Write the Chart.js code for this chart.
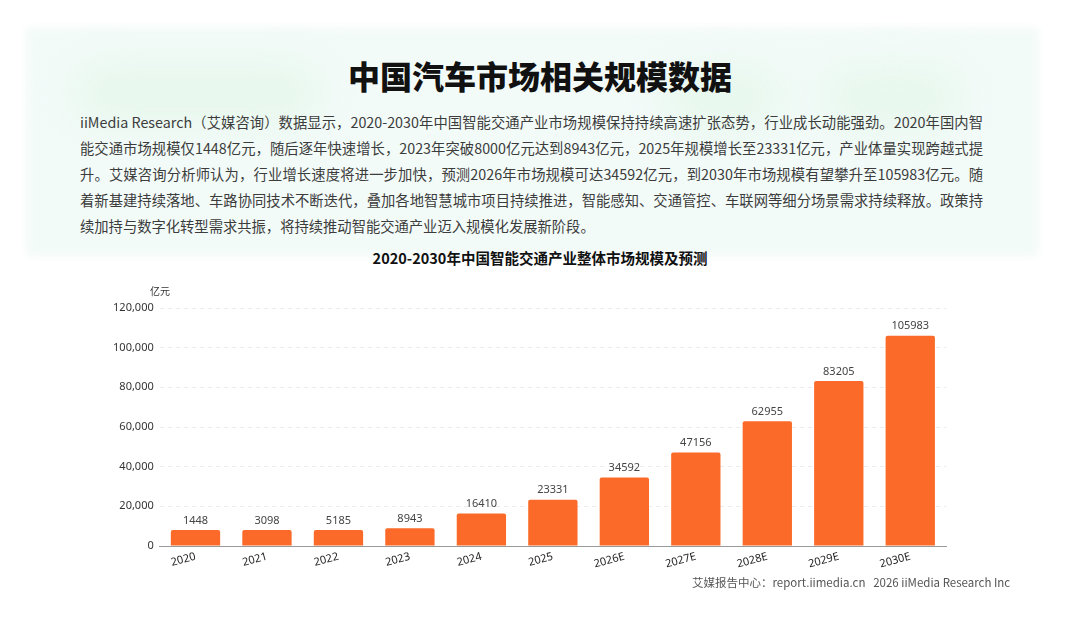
<!DOCTYPE html>
<html lang="zh">
<head>
    <meta charset="UTF-8">
    <title>中国汽车市场相关规模数据</title>
    <script src="https://cdn.jsdelivr.net/npm/chart.js"></script>
    <style>
        body { margin: 0; width: 1080px; height: 623px; background: #fff; position: relative; overflow: hidden; font-family: "Noto Sans CJK SC", "Noto Sans", sans-serif; }
        .panel { position: absolute; left: 22px; top: 23px; width: 1021px; height: 238px; background: #f3fbf9; overflow: hidden; box-shadow: inset 0 0 10px 4px #fff; }
        .blob { position: absolute; background: #e6f7ec; filter: blur(20px); border-radius: 40px; }
        .title { position: absolute; left: 0; top: 52px; width: 1080px; text-align: center; font-size: 32px; font-weight: 900; color: #111; line-height: 46px; }
        .para { position: absolute; left: 80px; top: 109px; width: 903px; font-size: 14.3px; color: #3c3c3c; }
        .para div { height: 26px; line-height: 26px; text-align: justify; text-align-last: justify; white-space: nowrap; }
        .para div.last { text-align-last: left; }
        .ctitle { position: absolute; left: 0; top: 247px; width: 1080px; text-align: center; font-size: 14.5px; font-weight: bold; color: #111; }
        .chart-box { position: absolute; left: 100px; top: 280px; width: 860px; height: 296px; }
        .foot { position: absolute; left: 692px; top: 574px; font-size: 11.5px; color: #555; white-space: pre; }
    </style>
</head>
<body>
    <div class="panel">
        <div class="blob" style="left:50px;top:40px;width:250px;height:60px;"></div>
        <div class="blob" style="left:640px;top:45px;width:120px;height:60px;"></div>
        <div class="blob" style="left:800px;top:45px;width:140px;height:60px;"></div>
    </div>
    <div class="title">中国汽车市场相关规模数据</div>
    <div class="para">
        <div>iiMedia Research（艾媒咨询）数据显示，2020-2030年中国智能交通产业市场规模保持持续高速扩张态势，行业成长动能强劲。2020年国内智</div>
        <div>能交通市场规模仅1448亿元，随后逐年快速增长，2023年突破8000亿元达到8943亿元，2025年规模增长至23331亿元，产业体量实现跨越式提</div>
        <div>升。艾媒咨询分析师认为，行业增长速度将进一步加快，预测2026年市场规模可达34592亿元，到2030年市场规模有望攀升至105983亿元。随</div>
        <div>着新基建持续落地、车路协同技术不断迭代，叠加各地智慧城市项目持续推进，智能感知、交通管控、车联网等细分场景需求持续释放。政策持</div>
        <div class="last">续加持与数字化转型需求共振，将持续推动智能交通产业迈入规模化发展新阶段。</div>
    </div>
    <div class="ctitle">2020-2030年中国智能交通产业整体市场规模及预测</div>
    <div class="chart-box"><canvas id="bar"></canvas></div>
    <div class="foot">艾媒报告中心：report.iimedia.cn   2026 iiMedia Research Inc</div>

    <script>
        // 数据
        const years = ["2020", "2021", "2022", "2023", "2024", "2025", "2026E", "2027E", "2028E", "2029E", "2030E"];
        const marketSize = [1448, 3098, 5185, 8943, 16410, 23331, 34592, 47156, 62955, 83205, 105983];
        const yTicks = [0, 20000, 40000, 60000, 80000, 100000, 120000];
        const unitLabel = "亿元";

        // 柱顶数值 + 单位
        const labelPlugin = {
            id: "barLabels",
            afterDatasetsDraw(chart) {
                const ctx = chart.ctx;
                const meta = chart.getDatasetMeta(0);
                ctx.save();
                ctx.font = "11px 'Noto Sans', sans-serif";
                ctx.fillStyle = "#444";
                ctx.textAlign = "center";
                ctx.textBaseline = "bottom";
                meta.data.forEach((bar, i) => {
                    ctx.fillText(String(marketSize[i]), bar.x, bar.y - 4);
                });
                ctx.font = "10px 'Noto Sans CJK SC', sans-serif";
                ctx.fillStyle = "#333";
                ctx.textAlign = "left";
                ctx.fillText(unitLabel, 50, chart.chartArea.top - 12);
                ctx.restore();
            }
        };

        new Chart(document.getElementById("bar"), {
            type: "bar",
            data: {
                labels: years,
                datasets: [{
                    data: marketSize,
                    backgroundColor: "#fb6a28",
                    borderRadius: 2,
                    borderSkipped: "bottom",
                    minBarLength: 16,
                    categoryPercentage: 0.69,
                    barPercentage: 1
                }]
            },
            options: {
                responsive: true,
                maintainAspectRatio: false,
                animation: false,
                layout: { padding: { top: 28, right: 14, left: 0, bottom: 0 } },
                plugins: { legend: { display: false }, tooltip: { enabled: false } },
                scales: {
                    x: {
                        grid: { display: false, drawTicks: false },
                        border: { color: "#999" },
                        ticks: {
                            color: "#222",
                            font: { size: 11, family: "'Noto Sans', sans-serif" },
                            minRotation: 15,
                            maxRotation: 15,
                            padding: 4
                        },
                        afterFit: s => { s.height = 30; }
                    },
                    y: {
                        min: 0,
                        max: 120000,
                        afterBuildTicks: s => { s.ticks = yTicks.map(v => ({ value: v })); },
                        grid: { color: "#ececec", drawTicks: false },
                        border: { display: false, dash: [4, 4] },
                        ticks: {
                            color: "#333",
                            font: { size: 11, family: "'Noto Sans', sans-serif" },
                            padding: 6,
                            callback: v => v.toLocaleString("en-US")
                        },
                        afterFit: s => { s.width = 59.75; }
                    }
                }
            },
            plugins: [labelPlugin]
        });
    </script>
</body>
</html>
